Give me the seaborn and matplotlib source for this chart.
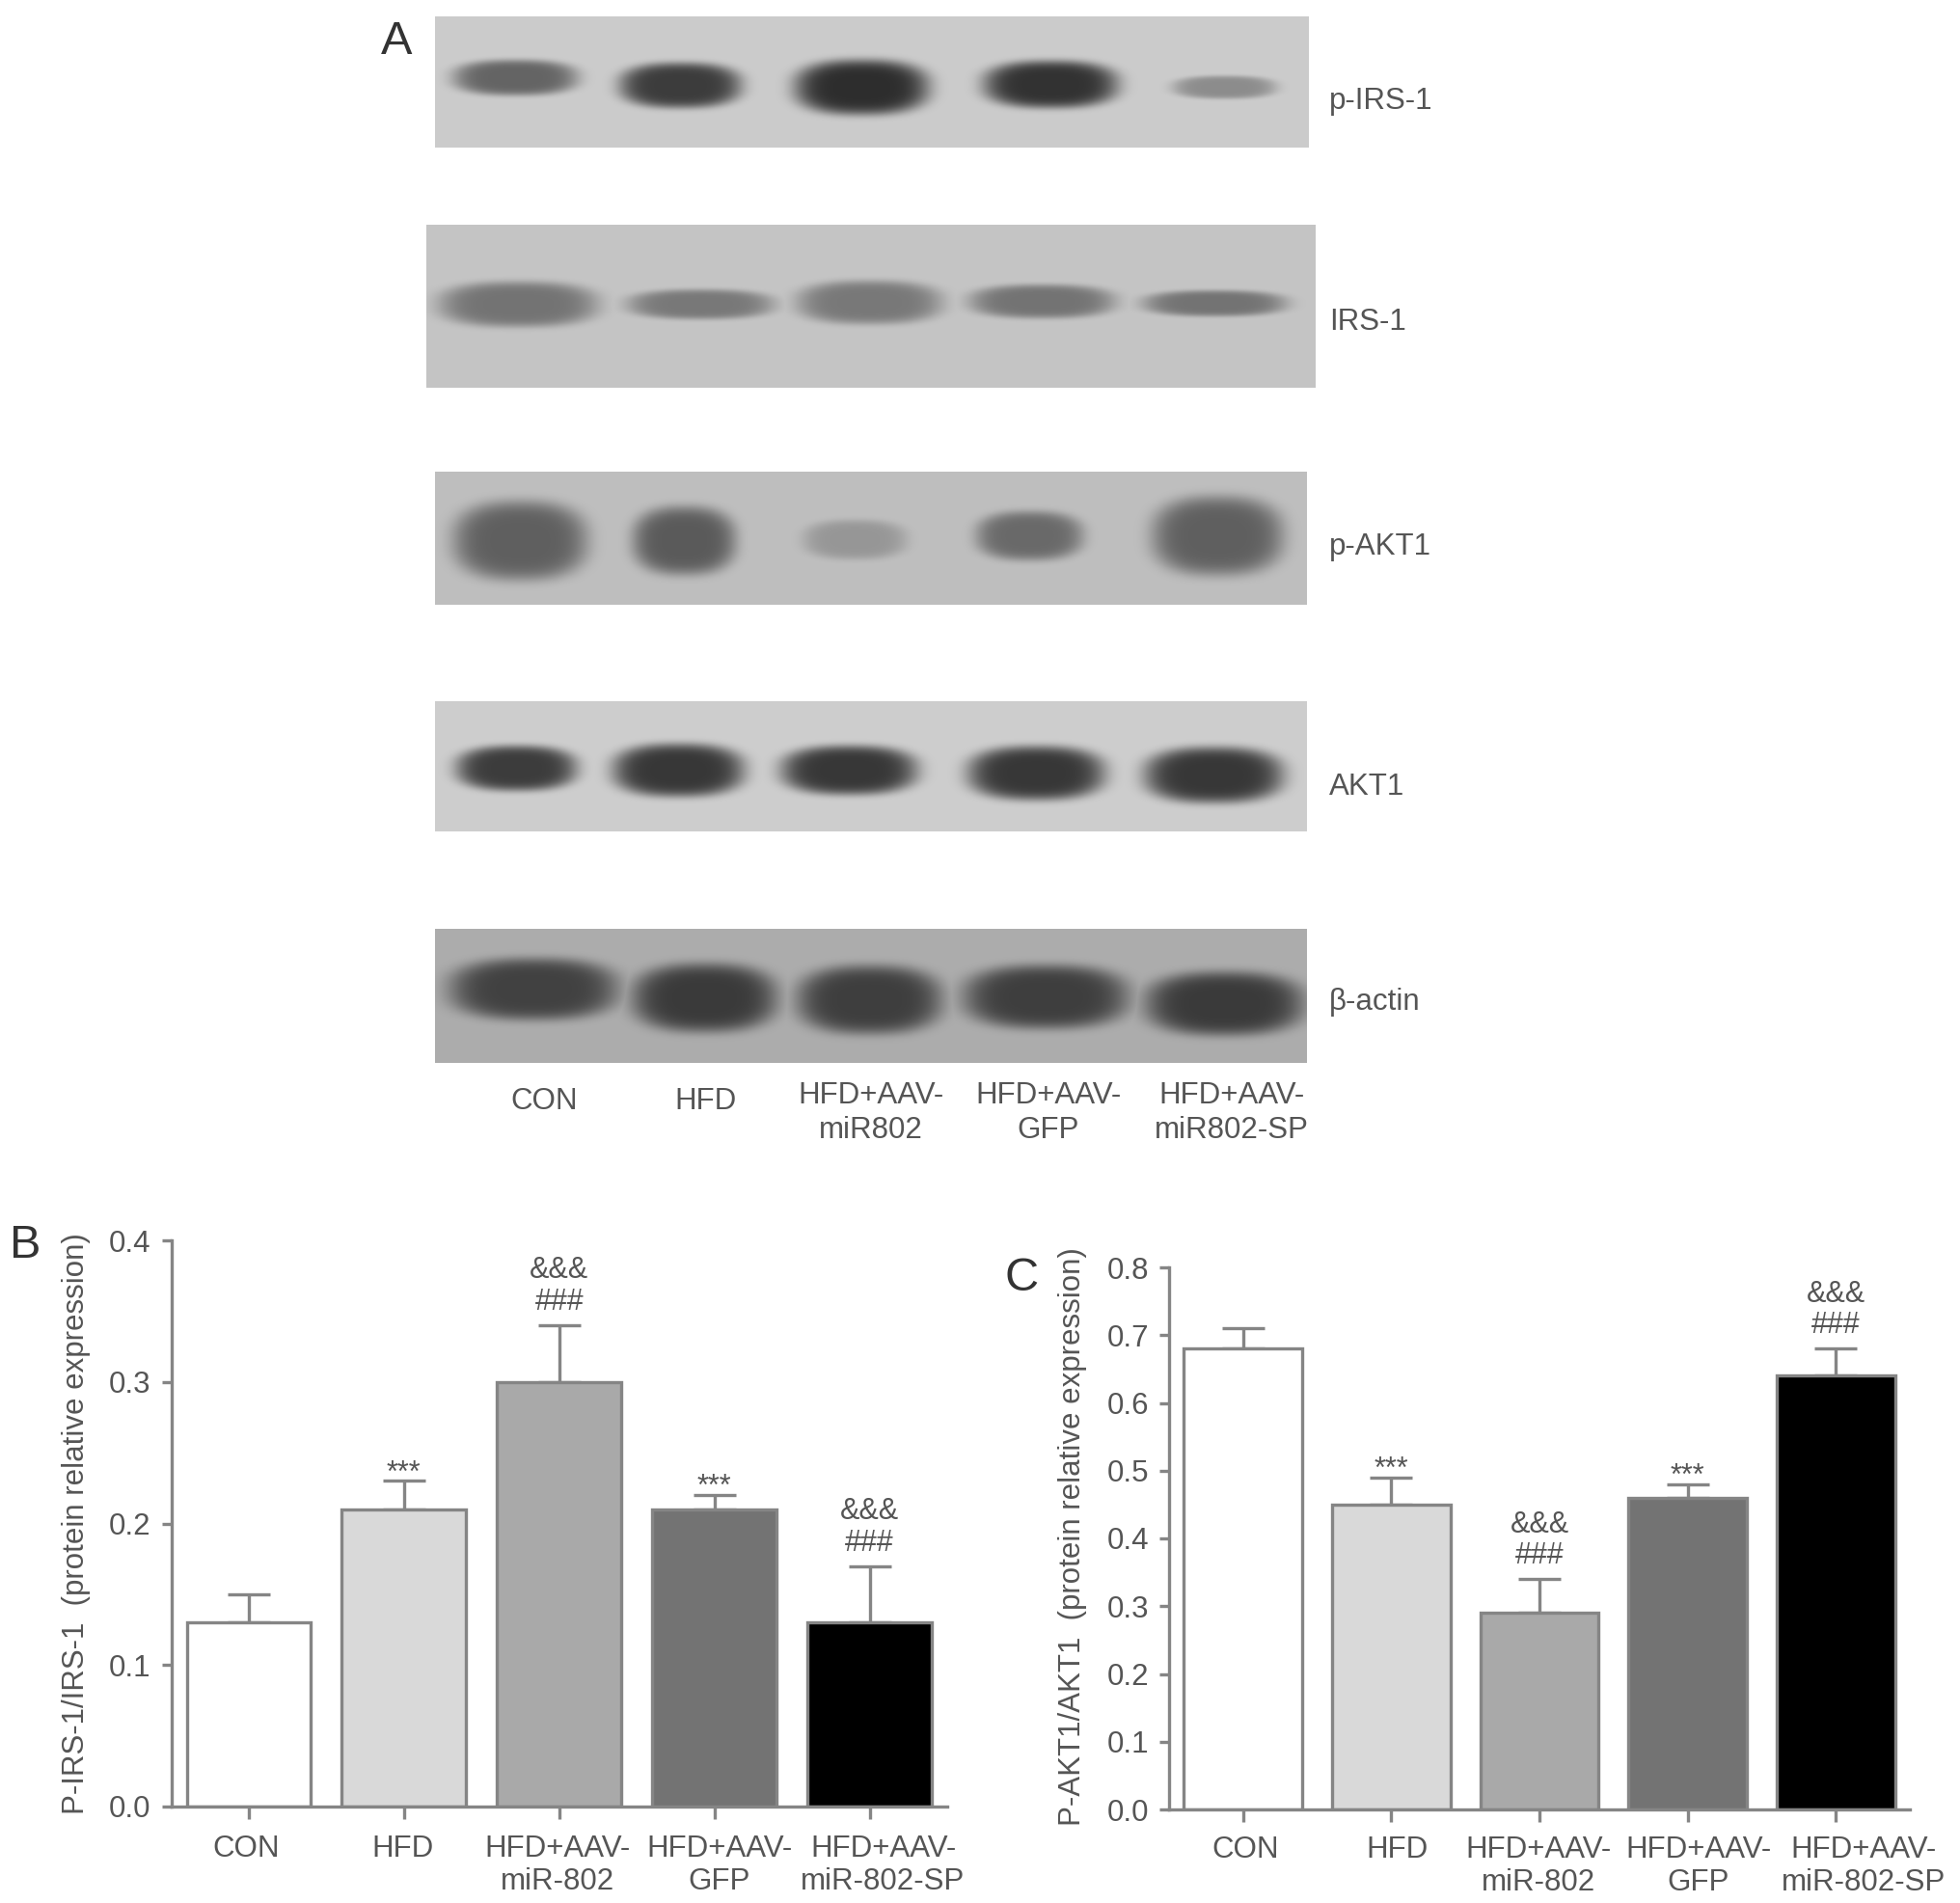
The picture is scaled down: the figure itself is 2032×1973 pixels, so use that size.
import numpy as np
import pandas as pd
import seaborn as sns
import matplotlib
matplotlib.use('Agg')
import matplotlib.pyplot as plt
from matplotlib.transforms import ScaledTranslation

W, H = 2032, 1973
TEXT = '#555555'
LINE = '#858585'

# ---- data for bar panels ----
groups_b = ['CON', 'HFD', 'HFD+AAV-\nmiR-802', 'HFD+AAV-\nGFP', 'HFD+AAV-\nmiR-802-SP']
irs_mean = [0.13, 0.21, 0.30, 0.21, 0.13]
irs_err = [0.02, 0.02, 0.04, 0.01, 0.04]
irs_marks = ['', '***', '&&&\n###', '***', '&&&\n###']
irs_ticks = [0.0, 0.1, 0.2, 0.3, 0.4]

akt_mean = [0.68, 0.45, 0.29, 0.46, 0.64]
akt_err = [0.03, 0.04, 0.05, 0.02, 0.04]
akt_marks = ['', '***', '&&&\n###', '***', '&&&\n###']
akt_ticks = [0.0, 0.1, 0.2, 0.3, 0.4, 0.5, 0.6, 0.7, 0.8]

bar_colors = ['#ffffff', '#d9d9d9', '#a9a9a9', '#737373', '#000000']

# ---- blots: lane band = (centre x, centre y, width, height, grey level), reference pixels ----
blot_names = ['p-IRS-1', 'IRS-1', 'p-AKT1', 'AKT1', '\u03b2-actin']
blot_label_y = [104.5, 334.5, 566.5, 815.5, 1039.5]
blot_boxes = [(451, 1357, 17, 153), (442, 1364, 233, 402), (451, 1355, 489, 627),
              (451, 1355, 727, 862), (451, 1355, 963, 1102)]
blot_bg = [203, 196, 190, 205, 172]
bands_pirs = [(534, 80, 129, 37, 100), (705, 88, 126, 47, 60), (893, 90, 139, 57, 45),
              (1089, 87, 139, 49, 50), (1269, 90, 107, 24, 140)]
bands_irs = [(537, 315, 164, 47, 115), (726, 315, 151, 31, 120), (901, 313, 150, 45, 120),
             (1080, 312, 150, 35, 115), (1259, 314, 148, 27, 115)]
bands_pakt = [(539, 560, 139, 82, 95), (709, 560, 107, 71, 90), (886, 559, 107, 41, 150),
              (1067, 555, 111, 51, 105), (1262, 555, 136, 82, 95)]
bands_akt = [(535, 796, 125, 47, 60), (703, 798, 136, 55, 55), (880, 798, 141, 51, 55),
             (1074, 801, 142, 56, 55), (1258, 803, 144, 58, 55)]
bands_actin = [(553, 1025, 175, 64, 65), (730, 1034, 150, 71, 58), (901, 1036, 150, 71, 62),
               (1084, 1033, 171, 66, 62), (1269, 1040, 164, 66, 58)]
all_bands = [bands_pirs, bands_irs, bands_pakt, bands_akt, bands_actin]

lane_labels = ['CON', 'HFD', 'HFD+AAV-\nmiR802', 'HFD+AAV-\nGFP', 'HFD+AAV-\nmiR802-SP']
lane_label_x = [564, 732, 903, 1087, 1277]
lane_label_y = [1141.5, 1141.5, 1154, 1154, 1154]

sns.set_theme(style='white')
plt.rcParams['font.family'] = ['Liberation Sans', 'DejaVu Sans']

fig = plt.figure(figsize=(W / 100, H / 100), dpi=100)


def px_axes(x0, x1, y0, y1):
    # axes box from reference pixels (y counted from the top)
    return fig.add_axes([x0 / W, 1 - y1 / H, (x1 - x0) / W, (y1 - y0) / H])


def px_text(x, y, s, **kw):
    fig.text(x / W, 1 - y / H, s, **kw)


# ---- panel A ----
for box, bg, bands, name, ly in zip(blot_boxes, blot_bg, all_bands, blot_names, blot_label_y):
    x0, x1, y0, y1 = box
    xx, yy = np.meshgrid(np.arange(x0, x1), np.arange(y0, y1))
    img = np.full(xx.shape, float(bg))
    for cx, cy, bw, bh, grey in bands:
        s = np.abs((xx - cx) / (bw / 2)) ** 2.5 + np.abs((yy - cy) / (bh / 2)) ** 2.5
        img = np.minimum(img, bg - (bg - grey) * np.exp(-s ** 2.5))
    ax = px_axes(x0, x1, y0, y1)
    sns.heatmap(img, ax=ax, cmap='gray', vmin=0, vmax=255, cbar=False,
                xticklabels=False, yticklabels=False)
    px_text(1378, ly, name, fontsize=22.5, color=TEXT, ha='left', va='center')

for s, x, y in zip(lane_labels, lane_label_x, lane_label_y):
    px_text(x, y, s, fontsize=22.5, color=TEXT, ha='center', va='center', linespacing=1.3)


# ---- panels B and C ----
def bar_panel(box, means, errs, marks, yticks, ylabel, label_x, label_y, shifts, xpad):
    ax = px_axes(*box)
    df = pd.DataFrame({'group': groups_b, 'value': means})
    sns.barplot(data=df, x='group', y='value', hue='group', palette=bar_colors, width=0.8,
                dodge=False, legend=False, edgecolor=LINE, linewidth=2.4, saturation=1, ax=ax)
    ax.errorbar(range(5), means, yerr=[np.zeros(5), errs], fmt='none', ecolor=LINE,
                elinewidth=2.4, capsize=16, capthick=2.4, zorder=0.5)
    for i, m in enumerate(marks):
        if not m:
            continue
        top = means[i] + errs[i]
        if m == '***':
            ax.annotate(m, (i, top), xytext=(0, 0), textcoords='offset points', ha='center',
                        va='baseline', fontsize=22, color=TEXT)
        else:
            amp, hsh = m.split('\n')
            ax.annotate(hsh, (i, top), xytext=(0, 11.5), textcoords='offset points', ha='center',
                        va='baseline', fontsize=22, color=TEXT)
            ax.annotate(amp, (i, top), xytext=(0, 35), textcoords='offset points', ha='center',
                        va='baseline', fontsize=22, color=TEXT)
    ax.set_xlim(-0.5, 4.5)
    ax.set_ylim(yticks[0], yticks[-1])
    ax.set_yticks(yticks)
    ax.set_yticklabels([f'{t:.1f}' for t in yticks])
    ax.set_xlabel('')
    ax.set_ylabel(ylabel, fontsize=22.5, color=TEXT)
    ax.yaxis.set_label_coords(label_x, label_y)
    sns.despine(ax=ax)
    for sp in ['left', 'bottom']:
        ax.spines[sp].set_color(LINE)
        ax.spines[sp].set_linewidth(2.4)
    ax.tick_params(axis='y', length=7.5, width=2.4, color=LINE, labelsize=22.5, labelcolor=TEXT, pad=7.5, left=True)
    ax.tick_params(axis='x', length=9.5, width=2.4, color=LINE, labelsize=22.5, labelcolor=TEXT, pad=xpad, bottom=True)
    for lab, dx in zip(ax.get_xticklabels(), shifts):
        lab.set_linespacing(1.15)
        lab.set_transform(lab.get_transform() + ScaledTranslation(dx / 100, 0, fig.dpi_scale_trans))
    return ax


bar_panel((177.5, 982, 1286, 1873), irs_mean, irs_err, irs_marks, irs_ticks,
          'P-IRS-1/IRS-1  (protein relative expression)', -0.104, 0.50, [-3, -1, -2, 5, 14], 11.5)
bar_panel((1212, 1980, 1314, 1876), akt_mean, akt_err, akt_marks, akt_ticks,
          'P-AKT1/AKT1  (protein relative expression)', -0.111, 0.504, [2, 6, -1, 11, 29], 10)

# ---- panel letters ----
px_text(395, 43.5, 'A', fontsize=35, color='#333333', ha='left', va='center')
px_text(10, 1292, 'B', fontsize=35, color='#333333', ha='left', va='center')
px_text(1041, 1326, 'C', fontsize=35, color='#333333', ha='left', va='center')

fig.savefig('out.png', dpi=100, facecolor='white')
